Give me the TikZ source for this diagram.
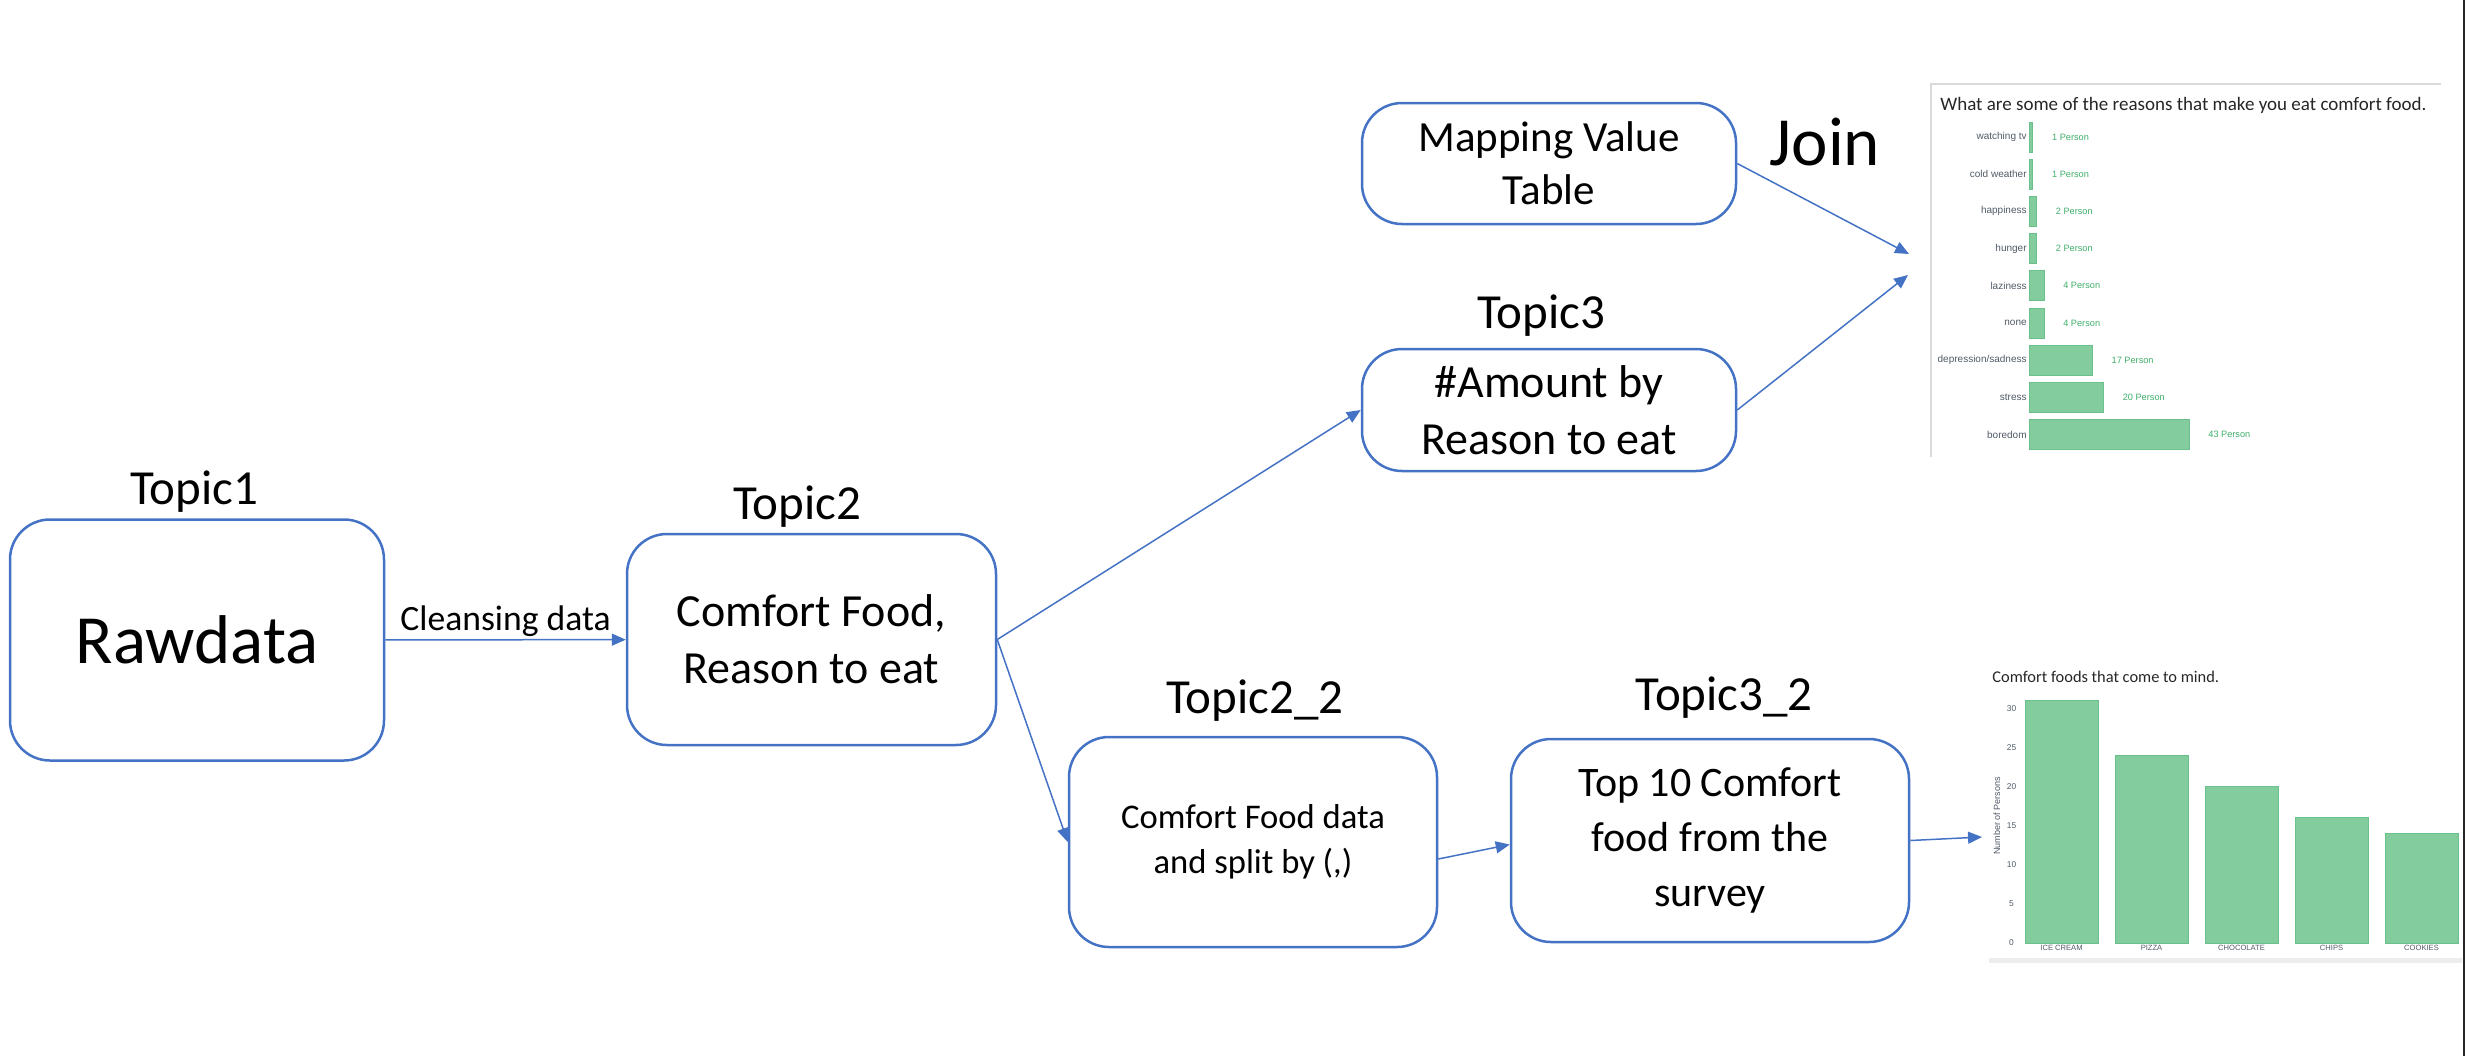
\documentclass[tikz,border=0pt]{standalone}
\usepackage{fontspec}
\setmainfont{Carlito}
\newfontfamily\chartfont{Liberation Sans}
\usepackage{xcolor}
\usepackage{tikz}
\usetikzlibrary{arrows.meta}
\usetikzlibrary{calc}

\definecolor{boxblue}{HTML}{4472C4}
\definecolor{bargreen}{HTML}{82CC9D}
\definecolor{baredge}{HTML}{6CC08B}
\definecolor{valgreen}{HTML}{3FAE6A}
\definecolor{labgray}{HTML}{505A66}

\tikzset{
    topicbox/.style={draw=boxblue,line width=1.25pt,rounded corners=20pt,align=center,inner sep=0pt},
    topiclabel/.style={anchor=base,inner sep=0pt,font=\fontsize{24.5}{29}\selectfont},
    flow/.style={draw=boxblue,line width=0.75pt,-{Triangle[length=7pt,width=6pt]}},
    bar/.style={fill=bargreen,draw=baredge,line width=0.4pt},
    smalltext/.style={inner sep=0pt,font=\chartfont\fontsize{#1}{#1}\selectfont}
}

\begin{document}
\begin{tikzpicture}[x=0.5pt,y=-0.5pt]
            \useasboundingbox (0,0) rectangle (2467,1056);

            \node[topicbox,minimum width=187pt,minimum height=120.5pt,font=\fontsize{34.5}{41}\selectfont] (raw) at (197,640) {Rawdata};
            \node[topicbox,minimum width=184.5pt,minimum height=105.5pt,font=\fontsize{23}{28.5}\selectfont] (food) at (811.5,639.5) {Comfort Food,\\Reason to eat};
            \node[topicbox,minimum width=187pt,minimum height=60.5pt,font=\fontsize{21.5}{26.5}\selectfont] (map) at (1549,163.5) {Mapping Value\\Table};
            \node[topicbox,minimum width=187pt,minimum height=61pt,font=\fontsize{23}{28.5}\selectfont] (amount) at (1549,410) {\#Amount by\\Reason to eat};
            \node[topicbox,minimum width=184pt,minimum height=105pt,font=\fontsize{17.3}{22.5}\selectfont] (split) at (1253,842) {Comfort Food data\\and split by (,)};
            \node[topicbox,minimum width=199pt,minimum height=101.5pt,font=\fontsize{21}{27.5}\selectfont] (top) at (1710,840.5) {Top 10 Comfort\\food from the\\survey};

            \node[topiclabel] (t1) at (194,504) {Topic1};
            \node[topiclabel] (t2) at (797,519) {Topic2};
            \node[topiclabel] (t3) at (1541,328) {Topic3};
            \node[topiclabel] (t22) at (1255,713) {Topic2\_2};
            \node[topiclabel] (t32) at (1724,710) {Topic3\_2};
            \node[anchor=base,inner sep=0pt,font=\fontsize{34.5}{41}\selectfont] (join) at (1825,165) {Join};

            \coordinate (joinA) at (1909,254);
            \coordinate (joinB) at (1908,275);
            \coordinate (chartin) at (1982,837);

            \draw[flow] (raw) -- node[above=1pt,inner sep=0pt,font=\fontsize{17.8}{21}\selectfont] (clean) {Cleansing data} (food);
            \draw[flow] (food.east) -- (amount.west);
            \draw[flow] (food.east) -- (split.west);
            \draw[flow] ([yshift=-8.5pt]split.east) -- ([yshift=-2pt]top.west);
            \draw[flow] (top.east) -- (chartin);
            \draw[flow] (map.east) -- (joinA);
            \draw[flow] (amount.east) -- (joinB);

            \draw[black!15,line width=0.75pt] (1931,457) -- (1931,84) -- (2441,84);
            \node[anchor=base west,inner sep=0pt,text=black!85,font=\fontsize{9.5}{11}\selectfont] (title1) at (1940,110) {What are some of the reasons that make you eat comfort food.};
            \foreach \lab/\n [count=\i from 0] in {watching tv/1,cold weather/1,happiness/2,hunger/2,laziness/4,none/4,{depression/sadness}/17,stress/20,boredom/43}{
                \draw[bar] (2029,{137+37.2*\i-15}) rectangle ++({3.72*\n},30);
                \node[smalltext=5,anchor=east,text=labgray] (cat\i) at (2027,{137+37.2*\i}) {\lab};
                \node[smalltext=4.6,anchor=west,text=valgreen] (val\i) at ({2029+3.72*\n+19},{137+37.2*\i}) {\n\ Person};
            }

            \node[anchor=base west,inner sep=0pt,text=black!85,font=\fontsize{8.2}{10}\selectfont] (title2) at (1992,682) {Comfort foods that come to mind.};
            \foreach \fname/\n [count=\i from 0] in {ICE CREAM/31,PIZZA/24,CHOCOLATE/20,CHIPS/16,COOKIES/14}{
                \draw[bar] ({2025+90*\i},943) rectangle ++(73,{-7.83*\n});
                \node[smalltext=3.8,text=labgray] (fd\i) at ({2061.5+90*\i},948) {\fname};
            }
            \foreach \v in {0,5,...,30}
                \node[smalltext=4.2,text=labgray] (tick\v) at (2011.5,{943-7.83*\v}) {\v};
            \node[smalltext=4.5,text=labgray,rotate=90] (axis) at (1997,816) {Number of Persons};
            \fill[black!7] (1989,958) rectangle (2462,963);

            \draw[black!85,line width=1pt] (2464,0) -- (2464,1056);
        \end{tikzpicture}
\end{document}
